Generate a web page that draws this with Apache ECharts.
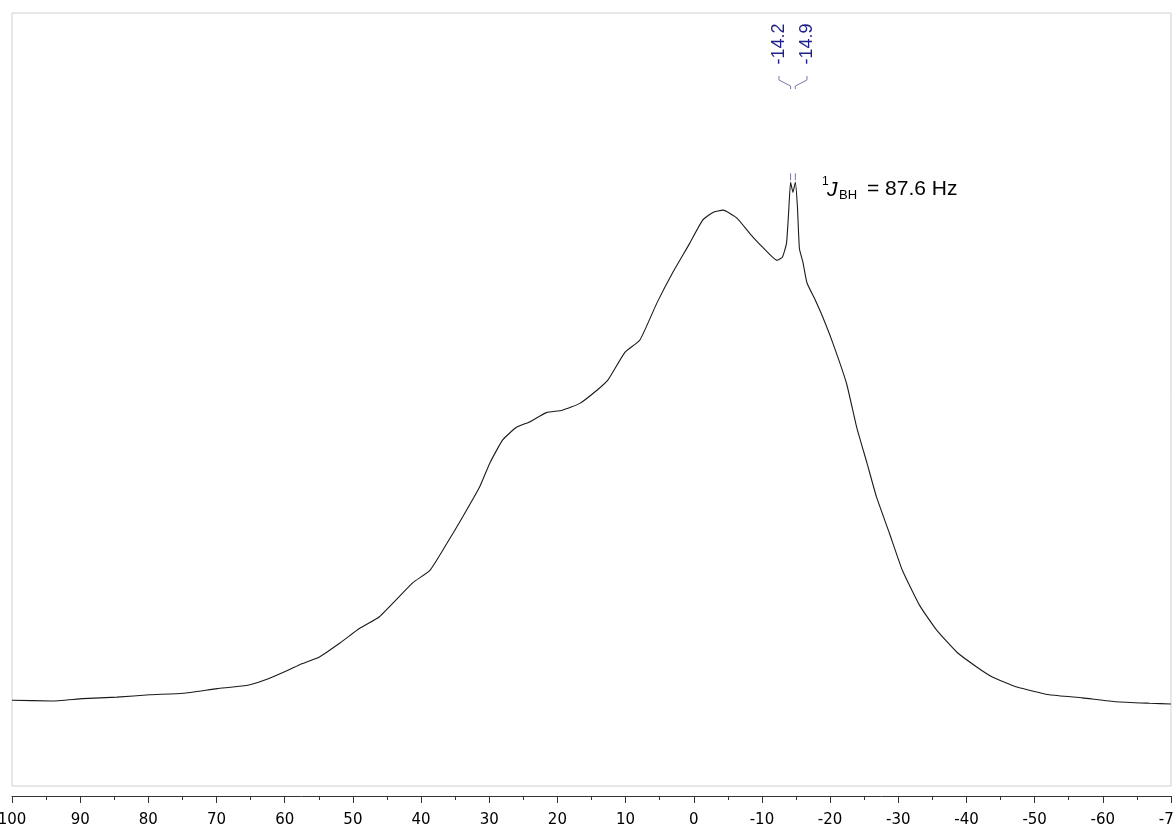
<!DOCTYPE html>
<html>
<head>
<meta charset="utf-8">
<script src="https://cdn.jsdelivr.net/npm/echarts@6/dist/echarts.min.js"></script>
<style>html,body{margin:0;padding:0;background:#fff}#c{width:1173px;height:829px}</style>
</head>
<body>
<div id="c"></div>
<script>
// chemical shift (ppm) of each sampled point of the 11B spectrum
const shiftPpm = [100, 94.2, 89.6, 84.6, 79.8, 74.9, 69.9, 67.6, 65.1, 62.6, 59.2, 57.8, 54.9, 51.9, 49.0, 46.1,
  41.2, 38.7, 36.2, 33.9, 31.4, 29.9, 28.0, 26.0, 24.1, 21.6, 19.3, 16.7, 14.2, 12.6, 10.1, 7.9, 5.4, 3.1, 0.6,
  -1.3, -2.8, -4.3, -6.3, -8.2, -10.1, -12.2, -13.0, -13.6, -13.9, -14.2, -14.55, -14.9, -15.2, -15.5, -16.0,
  -16.6, -17.8, -18.9, -20.4, -22.4, -23.9, -25.4, -26.8, -28.7, -30.6, -33.1, -35.6, -38.6, -41.5, -43.8,
  -47.4, -52.2, -57.0, -62.0, -66.9, -70];
// relative intensity (%) at each shift
const intensity = [11.1, 11.0, 11.3, 11.5, 11.8, 12.0, 12.6, 12.8, 13.1, 13.8, 15.1, 15.7, 16.7, 18.5, 20.4, 21.9,
  26.3, 27.9, 31.4, 34.8, 38.7, 41.8, 44.8, 46.4, 47.1, 48.3, 48.6, 49.5, 51.2, 52.5, 56.1, 57.7, 62.5, 66.4, 70.2,
  73.2, 74.2, 74.5, 73.5, 71.5, 69.7, 68.0, 68.4, 70.2, 74.0, 78.1, 76.8, 78.1, 75.0, 69.5, 67.8,
  65.1, 62.9, 60.7, 57.3, 52.1, 46.4, 41.8, 37.4, 32.7, 27.9, 23.4, 20.2, 17.3, 15.4, 14.1,
  12.8, 11.8, 11.4, 10.9, 10.7, 10.6];
// picked peaks
const peakPpm = [-14.2, -14.9];
const peakHeight = [78.1, 78.1];
const peakLabels = ['-14.2', '-14.9'];
// x axis ticks
const axisMax = 100, axisMin = -70, axisStep = 10;

const chart = echarts.init(document.getElementById('c'), null, {renderer: 'canvas'});
const lineData = shiftPpm.map((p, i) => [p, intensity[i]]);
const peakData = peakPpm.map((p, i) => [p, peakHeight[i], peakLabels[i]]);

const peakColor = '#1f1f8a';
const bracketColor = '#7878a8';

function renderPeak(params, api) {
  const cs = params.coordSys;
  const xs = peakPpm.map(p => api.coord([p, 0])[0]);
  const order = xs.map((x, i) => i).sort((a, b) => xs[a] - xs[b]);
  const center = xs.reduce((s, v) => s + v, 0) / xs.length;
  const idx = params.dataIndex;
  const rank = order.indexOf(idx);
  const spacing = 28;
  const lx = center + (rank - (xs.length - 1) / 2) * spacing;
  const top = api.coord([api.value(0), api.value(1)]);
  const px = top[0];
  const y0 = cs.y;
  return {
    type: 'group',
    children: [
      {
        type: 'text',
        x: lx, y: y0 + 31, rotation: Math.PI / 2,
        style: {text: peakLabels[idx], fill: peakColor, font: '18px "Liberation Sans", Arial, sans-serif',
          align: 'center', verticalAlign: 'middle'}
      },
      {
        type: 'polyline',
        shape: {points: [[lx, y0 + 63], [lx, y0 + 67], [px, y0 + 73], [px, y0 + 76]]},
        style: {stroke: bracketColor, lineWidth: 1, fill: null}
      },
      {
        type: 'line',
        shape: {x1: px, y1: top[1] - 9, x2: px, y2: top[1] - 2},
        style: {stroke: bracketColor, lineWidth: 1}
      }
    ]
  };
}

const hiddenAxisParts = {axisLine: {show: false}, axisTick: {show: false}, axisLabel: {show: false}, splitLine: {show: false}};

chart.setOption({
  animation: false,
  backgroundColor: '#ffffff',
  grid: [
    // plot frame holding the spectrum
    {left: 12, right: 2, top: 13, bottom: 43, show: true, borderColor: '#cfcfcf', borderWidth: 1,
      backgroundColor: 'transparent', containLabel: false, outerBoundsMode: 'none'},
    // separate strip for the ppm scale below the frame
    {left: 12, right: 2, top: 13, bottom: 33, show: false, containLabel: false, outerBoundsMode: 'none'}
  ],
  xAxis: [
    Object.assign({type: 'value', inverse: true, min: axisMin, max: axisMax, interval: axisStep, gridIndex: 0}, hiddenAxisParts),
    {
      type: 'value', inverse: true, min: axisMin, max: axisMax, interval: axisStep, gridIndex: 1,
      axisLine: {show: true, lineStyle: {color: '#333', width: 1}},
      axisTick: {show: true, length: 7, lineStyle: {color: '#333'}},
      minorTick: {show: true, splitNumber: 2, length: 4, lineStyle: {color: '#333'}},
      splitLine: {show: false},
      axisLabel: {color: '#000', fontSize: 15, fontFamily: '"DejaVu Sans", Tahoma, sans-serif', margin: 17,
        showMinLabel: true, showMaxLabel: true}
    }
  ],
  yAxis: [
    {type: 'value', min: 0, max: 100, show: false, gridIndex: 0},
    {type: 'value', min: 0, max: 100, show: false, gridIndex: 1}
  ],
  series: [
    {
      type: 'line', data: lineData, showSymbol: false, smooth: 0.15, xAxisIndex: 0, yAxisIndex: 0,
      lineStyle: {color: '#1a1a1a', width: 1.1}, silent: true
    },
    {
      type: 'custom', data: peakData, renderItem: renderPeak, clip: false, silent: true,
      xAxisIndex: 0, yAxisIndex: 0, encode: {x: 0, y: 1}, z: 5
    }
  ],
  graphic: [
    {type: 'text', left: 822, top: 176, style: {text: '1', fill: '#000', font: '12px "Liberation Sans", Arial, sans-serif'}},
    {type: 'text', left: 827, top: 180, style: {text: 'J', fill: '#000', font: 'italic 21px "Liberation Sans", Arial, sans-serif'}},
    {type: 'text', left: 839, top: 189, style: {text: 'BH', fill: '#000', font: '13px "Liberation Sans", Arial, sans-serif'}},
    {type: 'text', left: 867, top: 179, style: {text: '= 87.6 Hz', fill: '#000', font: '21px "Liberation Sans", Arial, sans-serif'}}
  ]
});
</script>
</body>
</html>
